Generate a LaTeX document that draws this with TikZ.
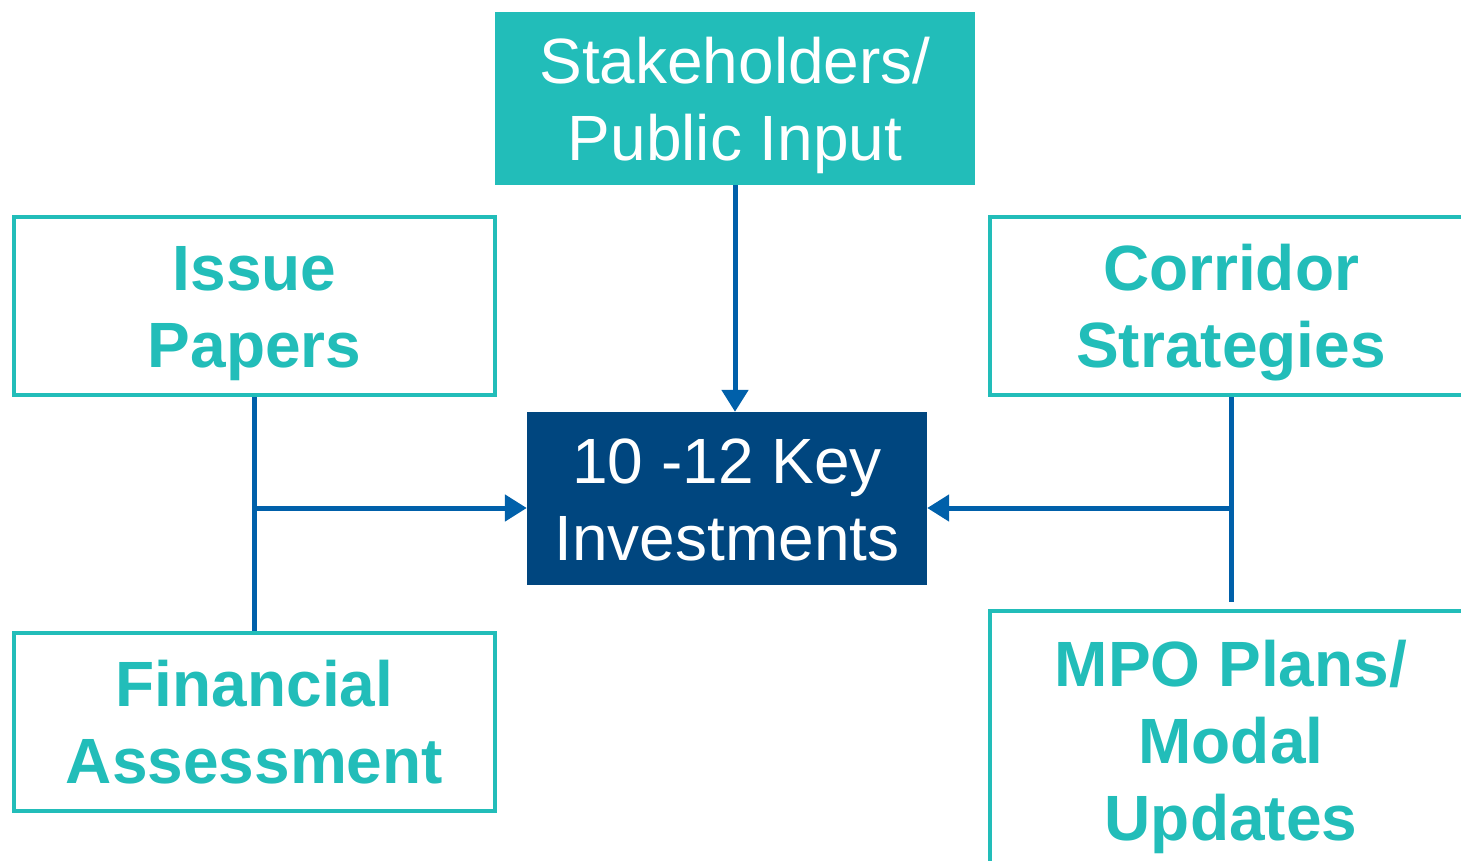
\documentclass[tikz,border=0pt]{standalone}
\usepackage{fontspec}
\setmainfont{Liberation Sans}
\usepackage{tikz}
\usetikzlibrary{arrows.meta}

\definecolor{teal1}{RGB}{34,189,185}
\definecolor{navy1}{RGB}{0,70,127}
\definecolor{blue1}{RGB}{0,96,170}

\tikzset{
  txt/.style={font=\fontsize{64}{77}\selectfont, align=center, inner sep=0pt, text depth=0pt, text height=123pt},
  three/.style={text height=200pt},
  outbox/.style={txt, draw=teal1, line width=4pt, text=teal1, font=\fontsize{64}{77}\selectfont\bfseries},
  fillbox/.style={txt, fill=#1, text=white},
  line/.style={draw=blue1, line width=5pt},
  link/.style={line, -{Triangle[length=22pt,width=26pt]}}
}

\begin{document}
\begin{tikzpicture}[x=1pt,y=-1pt]
    \useasboundingbox (0,0) rectangle (1461,860);
    \clip (0,0) rectangle (1461,860);
    \node[fillbox=teal1, minimum width=480pt, minimum height=173pt] (stake) at (735,98.5) {Stakeholders/\\Public Input};
    \node[outbox, minimum width=481pt, minimum height=178pt] (issue) at (254.5,306) {Issue\\Papers};
    \node[outbox, minimum width=481pt, minimum height=178pt] (fin) at (254.5,722) {Financial\\Assessment};
    \node[outbox, minimum width=482pt, minimum height=178pt] (corr) at (1231,306) {Corridor\\Strategies};
    \node[outbox, three, minimum width=482pt, minimum height=258pt] (mpo) at (1231,740) {MPO Plans/\\Modal\\Updates};
    \node[fillbox=navy1, minimum width=400pt, minimum height=173pt] (key) at (727,498.5) {10 -12 Key\\Investments};

    \draw[link] (stake.south) -- (stake.south |- key.north);
    \draw[line] (issue.south) -- (fin.north);
    \coordinate (lj) at ([yshift=-9.5pt]issue.south |- key.west);
    \draw[link] (lj) -- (lj -| key.west);
    \draw[line, shorten >=7pt] (corr.south) -- (mpo.north);
    \coordinate (rj) at ([yshift=-9.5pt]corr.south |- key.east);
    \draw[link] (rj) -- (rj -| key.east);
  \end{tikzpicture}
\end{document}
